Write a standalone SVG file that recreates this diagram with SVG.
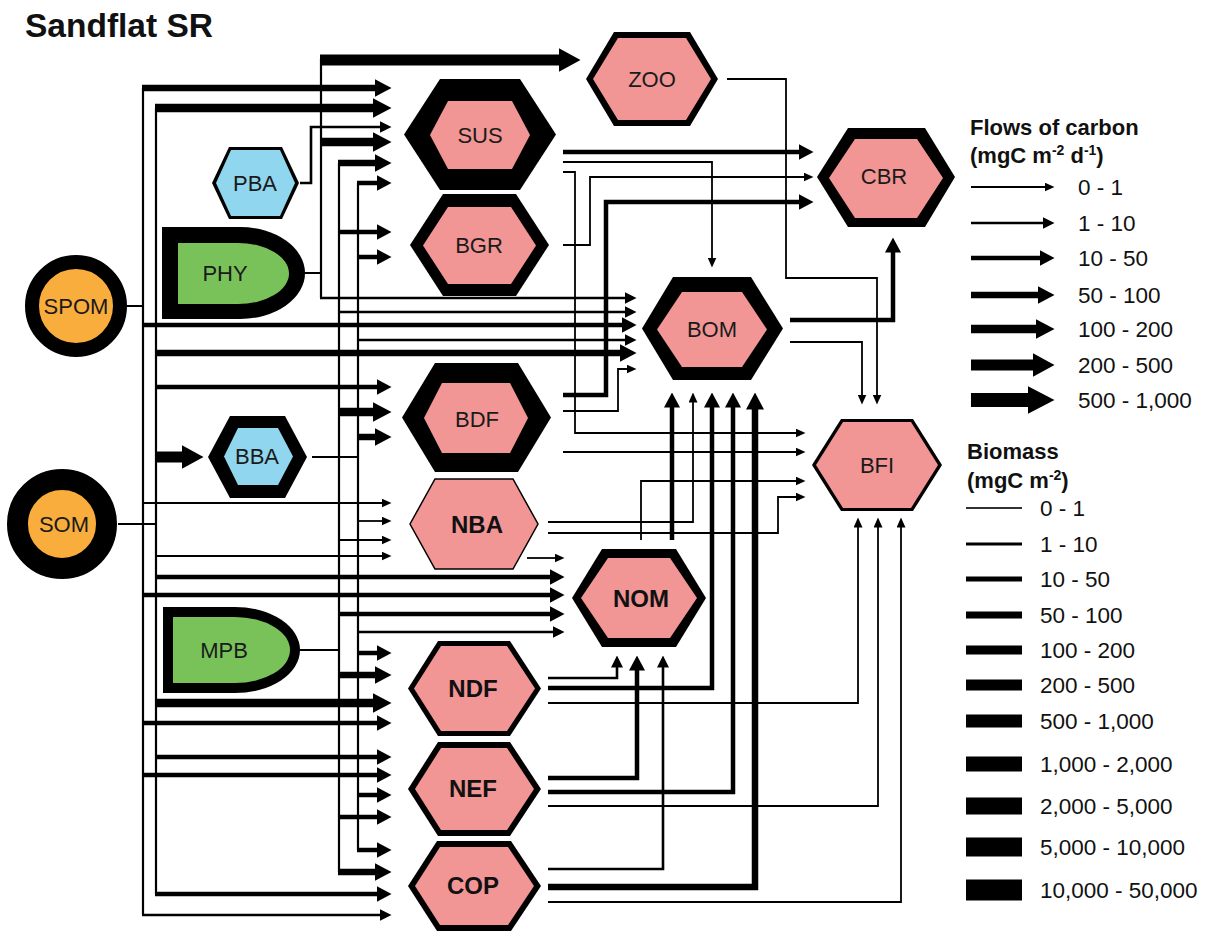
<svg xmlns="http://www.w3.org/2000/svg" width="1213" height="935" viewBox="0 0 1213 935">
<defs>
<style>
.f{fill:none;stroke:#000;stroke-linejoin:miter}
.t{fill:none;stroke:#000;stroke-width:2.2}
.c1{stroke-width:1.8;marker-end:url(#m1)}
.c2{stroke-width:2.6;marker-end:url(#m2)}
.c3{stroke-width:4.5;marker-end:url(#m3)}
.c4{stroke-width:6.5;marker-end:url(#m4)}
.c5{stroke-width:8.5;marker-end:url(#m5)}
.c6{stroke-width:11;marker-end:url(#m6)}
.c7{stroke-width:14;marker-end:url(#m7)}
.pk{fill:#f29595}
.gr{fill:#79c25a}
.or{fill:#f9ad3c}
.bl{fill:#8fd6ee}
.lb{font-family:"Liberation Sans",Arial,sans-serif;font-size:22px;fill:#1a1a1a;text-anchor:middle}
.lbb{font-family:"Liberation Sans",Arial,sans-serif;font-size:24px;font-weight:bold;fill:#111;text-anchor:middle}
.lg{font-family:"Liberation Sans",Arial,sans-serif;font-size:22.5px;fill:#111}
.lgh{font-family:"Liberation Sans",Arial,sans-serif;font-size:22px;font-weight:bold;fill:#111}
</style>
<marker id="m1" viewBox="0 0 10 9" refX="0.5" refY="4.5" markerWidth="10" markerHeight="9" markerUnits="userSpaceOnUse" orient="auto"><path d="M0,0L10,4.5L0,9z"/></marker>
<marker id="m2" viewBox="0 0 12 12" refX="0.5" refY="6" markerWidth="12" markerHeight="12" markerUnits="userSpaceOnUse" orient="auto"><path d="M0,0L12,6L0,12z"/></marker>
<marker id="m3" viewBox="0 0 15 16" refX="0.5" refY="8" markerWidth="15" markerHeight="16" markerUnits="userSpaceOnUse" orient="auto"><path d="M0,0L15,8L0,16z"/></marker>
<marker id="m4" viewBox="0 0 17 18" refX="0.5" refY="9" markerWidth="17" markerHeight="18" markerUnits="userSpaceOnUse" orient="auto"><path d="M0,0L17,9L0,18z"/></marker>
<marker id="m5" viewBox="0 0 19 20" refX="0.5" refY="10" markerWidth="19" markerHeight="20" markerUnits="userSpaceOnUse" orient="auto"><path d="M0,0L19,10L0,20z"/></marker>
<marker id="m6" viewBox="0 0 22 24" refX="0.5" refY="12" markerWidth="22" markerHeight="24" markerUnits="userSpaceOnUse" orient="auto"><path d="M0,0L22,12L0,24z"/></marker>
<marker id="m7" viewBox="0 0 27 28" refX="0.5" refY="14" markerWidth="27" markerHeight="28" markerUnits="userSpaceOnUse" orient="auto"><path d="M0,0L27,14L0,28z"/></marker>
</defs>
<rect width="1213" height="935" fill="#fff"/>
<text x="25" y="37" font-family="Liberation Sans,Arial,sans-serif" font-size="33.5" font-weight="bold" fill="#111">Sandflat SR</text>

<g id="connectors">
<path class="t" d="M127,306H143M143,88V915"/>
<path class="t" d="M118,524H156M156,108V894"/>
<path class="t" d="M305,273H321M321,59V298"/>
<path class="t" d="M300,650H339M339,163V872"/>
<path class="t" d="M312,457H358M358,183V850"/>
<path class="f c6" d="M320,60H559"/>
<path class="f c4" d="M142,88H375"/>
<path class="f c5" d="M155,108H373"/>
<path class="f c2" d="M300,183H311V127H380"/>
<path class="f c5" d="M320,142H373"/>
<path class="f c4" d="M338,163H375"/>
<path class="f c3" d="M357,183H377"/>
<path class="f c3" d="M338,232H377"/>
<path class="f c3" d="M357,257H377"/>
<path class="f c2" d="M320,298H625"/>
<path class="f c2" d="M338,312H625"/>
<path class="f c3" d="M142,325H622"/>
<path class="f c2" d="M357,340H625"/>
<path class="f c4" d="M155,353H620"/>
<path class="f c1" d="M563,411H618V369H627"/>
<path class="f c3" d="M155,387H377"/>
<path class="f c5" d="M338,412H373"/>
<path class="f c4" d="M357,437H375"/>
<path class="f c6" d="M155,457H182"/>
<path class="f c1" d="M142,503H382"/>
<path class="f c1" d="M357,521H382"/>
<path class="f c1" d="M338,540H382"/>
<path class="f c1" d="M155,556H382"/>
<path class="f c1" d="M527,558H555"/>
<path class="f c3" d="M155,577H550"/>
<path class="f c3" d="M142,595H550"/>
<path class="f c3" d="M338,614H550"/>
<path class="f c2" d="M357,632H553"/>
<path class="f c3" d="M357,653H377"/>
<path class="f c4" d="M338,675H375"/>
<path class="f c5" d="M155,703H373"/>
<path class="f c3" d="M142,723H377"/>
<path class="f c3" d="M155,757H377"/>
<path class="f c3" d="M142,775H377"/>
<path class="f c3" d="M357,795H377"/>
<path class="f c3" d="M338,817H377"/>
<path class="f c3" d="M357,850H377"/>
<path class="f c4" d="M338,872H375"/>
<path class="f c3" d="M155,894H377"/>
<path class="f c2" d="M142,915H380"/>
<path class="f c3" d="M563,152H799"/>
<path class="f c1" d="M563,162H712V258"/>
<path class="f c1" d="M563,172H575V433H796"/>
<path class="f c1" d="M563,245H590V177H804"/>
<path class="f c3" d="M563,395H606V202H799"/>
<path class="f c1" d="M563,452H796"/>
<path class="f c1" d="M727,79H786V278H877V395"/>
<path class="f c3" d="M790,320H893V252"/>
<path class="f c1" d="M790,342H862V395"/>
<path class="f c1" d="M641,540V481H796"/>
<path class="f c1" d="M548,533H778V497H796"/>
<path class="f c1" d="M548,522H693V402"/>
<path class="f c3" d="M672,540V407"/>
<path class="f c3" d="M548,688H712V407"/>
<path class="f c3" d="M548,792H733V407"/>
<path class="f c4" d="M548,887H755V409"/>
<path class="f c2" d="M548,678H617V667"/>
<path class="f c3" d="M548,778H637V670"/>
<path class="f c2" d="M548,869H663V667"/>
<path class="f c1" d="M548,703H858V527"/>
<path class="f c1" d="M548,806H878V527"/>
<path class="f c1" d="M548,902H901V527"/>
</g>

<g id="SPOM"><circle cx="76" cy="306" r="44" class="or" stroke="#000" stroke-width="14"/><text class="lb" x="76" y="314">SPOM</text></g>
<g id="SOM"><circle cx="62" cy="524" r="44.5" class="or" stroke="#000" stroke-width="21"/><text class="lb" x="64" y="532">SOM</text></g>
<g id="PHY"><path d="M162,227H240A65,46 0 0 1 240,319H162Z"/><path class="gr" d="M178,243H238A51,30.5 0 0 1 238,304H178Z"/><text class="lb" x="225" y="281">PHY</text></g>
<g id="MPB"><path d="M163,607H235A65,43 0 0 1 235,693H163Z"/><path class="gr" d="M173,617H235A55,33 0 0 1 235,683H173Z"/><text class="lb" x="224" y="658">MPB</text></g>
<g id="PBA"><polygon points="212,183 229,147 282,147 299,183 282,219 229,219"/><polygon class="bl" points="216,183 231,150 280,150 295,183 280,216 231,216"/><text class="lb" x="255" y="191">PBA</text></g>
<g id="BBA"><polygon points="208,457 230,416 285,416 307,457 285,498 230,498"/><polygon class="bl" points="224,456.5 238,428 278,428 293,456.5 278,485 238,485"/><text class="lb" x="257" y="464">BBA</text></g>
<g id="ZOO"><polygon points="586,79 614,32 690,32 718,79 690,126 614,126"/><polygon class="pk" points="593,79 618,38 686,38 711,79 686,120 618,120"/><text class="lb" x="652" y="87">ZOO</text></g>
<g id="SUS"><polygon points="404,134.5 440,79 520,79 556,134.5 520,190 440,190"/><polygon class="pk" points="430,135 448,101 512,101 530,135 512,169 448,169"/><text class="lb" x="480" y="143">SUS</text></g>
<g id="BGR"><polygon points="410,245 443,194 516,194 549,245 516,296 443,296"/><polygon class="pk" points="423,245.5 448,207 511,207 536,245.5 511,284 448,284"/><text class="lb" x="479" y="253">BGR</text></g>
<g id="CBR"><polygon points="817,177 848,128 925,128 955,177 925,227 848,227"/><polygon class="pk" points="829,178 855,139 917,139 943,178 917,218 855,218"/><text class="lb" x="884" y="184">CBR</text></g>
<g id="BOM"><polygon points="642,328.5 673,277 751,277 783,328.5 751,380 673,380"/><polygon class="pk" points="657,329.5 682,292 742,292 767,329.5 742,367 682,367"/><text class="lb" x="712" y="337">BOM</text></g>
<g id="BDF"><polygon points="402,417.5 435,363 518,363 551,417.5 518,472 435,472"/><polygon class="pk" points="424,418 442,383 510,383 528,418 510,453 442,453"/><text class="lb" x="477" y="427">BDF</text></g>
<g id="NBA"><polygon class="pk" stroke="#000" stroke-width="1.5" points="410,524 435,479 513,479 538,524 513,569 435,569"/><text class="lbb" x="477" y="533">NBA</text></g>
<g id="BFI"><polygon points="812,465 841,419 913,419 942,465 913,511 841,511"/><polygon class="pk" points="816,465 843,422 911,422 938,465 911,508 843,508"/><text class="lb" x="877" y="473">BFI</text></g>
<g id="NOM"><polygon points="572,598 602,549 676,549 706,598 676,647 602,647"/><polygon class="pk" points="581,598 608,558 670,558 697,598 670,638 608,638"/><text class="lbb" x="641" y="607">NOM</text></g>
<g id="NDF"><polygon points="408,688.5 438,641 510,641 541,688.5 510,736 438,736"/><polygon class="pk" points="414,688.5 441,646 507,646 535,688.5 507,731 441,731"/><text class="lbb" x="473" y="697">NDF</text></g>
<g id="NEF"><polygon points="408,789 438,742 510,742 541,789 510,836 438,836"/><polygon class="pk" points="415,789 441,748 507,748 534,789 507,830 441,830"/><text class="lbb" x="473" y="797">NEF</text></g>
<g id="COP"><polygon points="408,886 437,841 511,841 541,886 511,931 437,931"/><polygon class="pk" points="415,886 440,847 508,847 534,886 508,925 440,925"/><text class="lbb" x="473" y="894">COP</text></g>

<g id="legend-flows">
<text class="lgh" x="970" y="135">Flows of carbon</text>
<text class="lgh" x="970" y="163">(mgC m<tspan font-size="14" dy="-8">-2</tspan><tspan dy="8"> d</tspan><tspan font-size="14" dy="-8">-1</tspan><tspan dy="8">)</tspan></text>
<path class="f c1" d="M971,187H1045"/>
<path class="f c2" d="M971,223H1043"/>
<path class="f c3" d="M971,258H1040"/>
<path class="f c4" d="M971,295H1038"/>
<path class="f c5" d="M971,329H1036"/>
<path class="f c6" d="M971,365H1033"/>
<path class="f c7" d="M971,400H1028"/>
<text class="lg" x="1078" y="195">0 - 1</text>
<text class="lg" x="1078" y="231">1 - 10</text>
<text class="lg" x="1078" y="266">10 - 50</text>
<text class="lg" x="1078" y="303">50 - 100</text>
<text class="lg" x="1078" y="337">100 - 200</text>
<text class="lg" x="1078" y="373">200 - 500</text>
<text class="lg" x="1078" y="408">500 - 1,000</text>
</g>
<g id="legend-biomass">
<text class="lgh" x="967" y="459">Biomass</text>
<text class="lgh" x="967" y="488">(mgC m<tspan font-size="14" dy="-8">-2</tspan><tspan dy="8">)</tspan></text>
<rect x="966" y="507.2" width="56" height="1.6"/>
<rect x="966" y="542.5" width="56" height="3"/>
<rect x="966" y="576.5" width="56" height="5"/>
<rect x="966" y="611.5" width="56" height="7"/>
<rect x="966" y="645.5" width="56" height="9"/>
<rect x="966" y="679.5" width="56" height="11"/>
<rect x="966" y="714.5" width="56" height="13"/>
<rect x="966" y="756.5" width="56" height="15"/>
<rect x="966" y="797.5" width="56" height="17"/>
<rect x="966" y="837.5" width="56" height="19"/>
<rect x="966" y="879.5" width="56" height="21"/>
<text class="lg" x="1040" y="516">0 - 1</text>
<text class="lg" x="1040" y="552">1 - 10</text>
<text class="lg" x="1040" y="587">10 - 50</text>
<text class="lg" x="1040" y="623">50 - 100</text>
<text class="lg" x="1040" y="658">100 - 200</text>
<text class="lg" x="1040" y="693">200 - 500</text>
<text class="lg" x="1040" y="729">500 - 1,000</text>
<text class="lg" x="1040" y="772">1,000 - 2,000</text>
<text class="lg" x="1040" y="814">2,000 - 5,000</text>
<text class="lg" x="1040" y="855">5,000 - 10,000</text>
<text class="lg" x="1040" y="898">10,000 - 50,000</text>
</g>
</svg>
